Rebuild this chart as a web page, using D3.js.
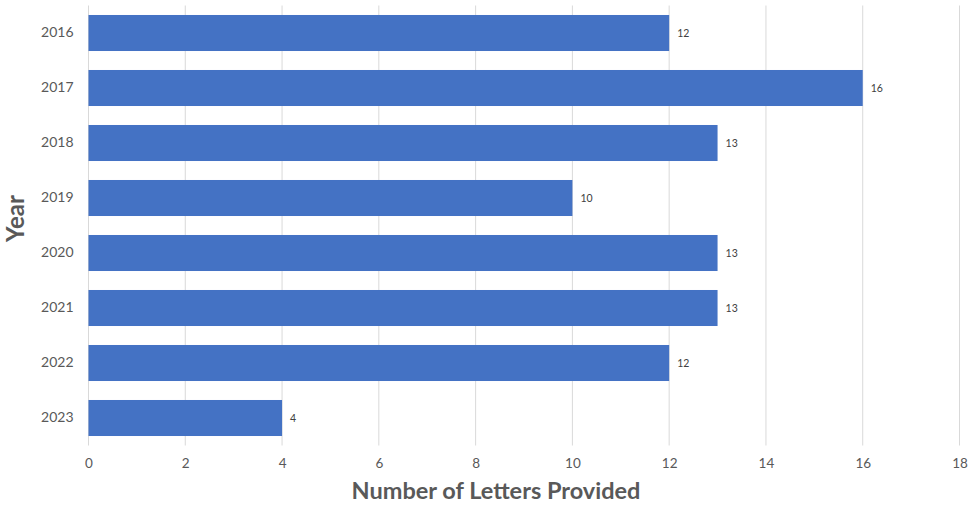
<!DOCTYPE html>
<html>
<head>
<meta charset="utf-8">
<script src="https://cdn.jsdelivr.net/npm/d3@7"></script>
<style>
  body { margin: 0; background: #fff; }
  svg text { font-family: Lato, "Open Sans", sans-serif; }
</style>
</head>
<body>
<svg id="chart" width="969" height="505"></svg>
<script>
// Letters provided per year
const years = ["2016", "2017", "2018", "2019", "2020", "2021", "2022", "2023"];
const letters = [12, 16, 13, 10, 13, 13, 12, 4];
const xTicks = [0, 2, 4, 6, 8, 10, 12, 14, 16, 18];

const svg = d3.select("#chart");
const plotLeft = 88.5, plotRight = 959.5, plotTop = 5.5, plotBottom = 445.5;

const x = d3.scaleLinear().domain([0, 18]).range([plotLeft, plotRight]);
const y = d3.scaleBand().domain(years).range([plotTop, plotBottom]).paddingInner(0.345).paddingOuter(0.1725);

// vertical gridlines
svg.append("g").selectAll("line").data(xTicks).join("line")
  .attr("x1", d => x(d)).attr("x2", d => x(d))
  .attr("y1", plotTop).attr("y2", plotBottom)
  .attr("stroke", "#d9d9d9").attr("stroke-width", 1);

// bars
svg.append("g").selectAll("rect").data(years).join("rect")
  .attr("x", x(0))
  .attr("y", d => y(d))
  .attr("width", (d, i) => x(letters[i]) - x(0))
  .attr("height", y.bandwidth())
  .attr("fill", "#4472c4");

// value labels
svg.append("g").selectAll("text").data(years).join("text")
  .attr("x", (d, i) => x(letters[i]) + 8)
  .attr("y", d => y(d) + y.bandwidth() / 2)
  .attr("dy", "0.35em")
  .attr("font-size", 10.5)
  .attr("fill", "#404040")
  .text((d, i) => letters[i]);

// x axis tick labels
const xAxis = d3.axisBottom(x).tickValues(xTicks).tickSize(0).tickPadding(0);
const gx = svg.append("g").attr("transform", `translate(0,${plotBottom + 13})`).call(xAxis);
gx.select(".domain").remove();
gx.selectAll("text").attr("font-size", 13.5).attr("fill", "#595959")
  .attr("font-family", "Lato, sans-serif").attr("dy", "0.71em");

// y axis category labels
const yAxis = d3.axisLeft(y).tickSize(0).tickPadding(0);
const gy = svg.append("g").attr("transform", `translate(${plotLeft - 15},0)`).call(yAxis);
gy.select(".domain").remove();
gy.selectAll("text").attr("font-size", 14).attr("fill", "#595959")
  .attr("font-family", "Lato, sans-serif");

// axis titles
svg.append("text")
  .attr("x", (plotLeft + plotRight) / 2 - 28).attr("y", 499)
  .attr("text-anchor", "middle")
  .attr("font-size", 23.5).attr("font-weight", "bold").attr("fill", "#595959")
  .text("Number of Letters Provided");

svg.append("text")
  .attr("transform", `translate(24,${(plotTop + plotBottom) / 2 - 7}) rotate(-90)`)
  .attr("text-anchor", "middle")
  .attr("font-size", 24).attr("font-weight", "bold").attr("fill", "#595959")
  .text("Year");
</script>
</body>
</html>
